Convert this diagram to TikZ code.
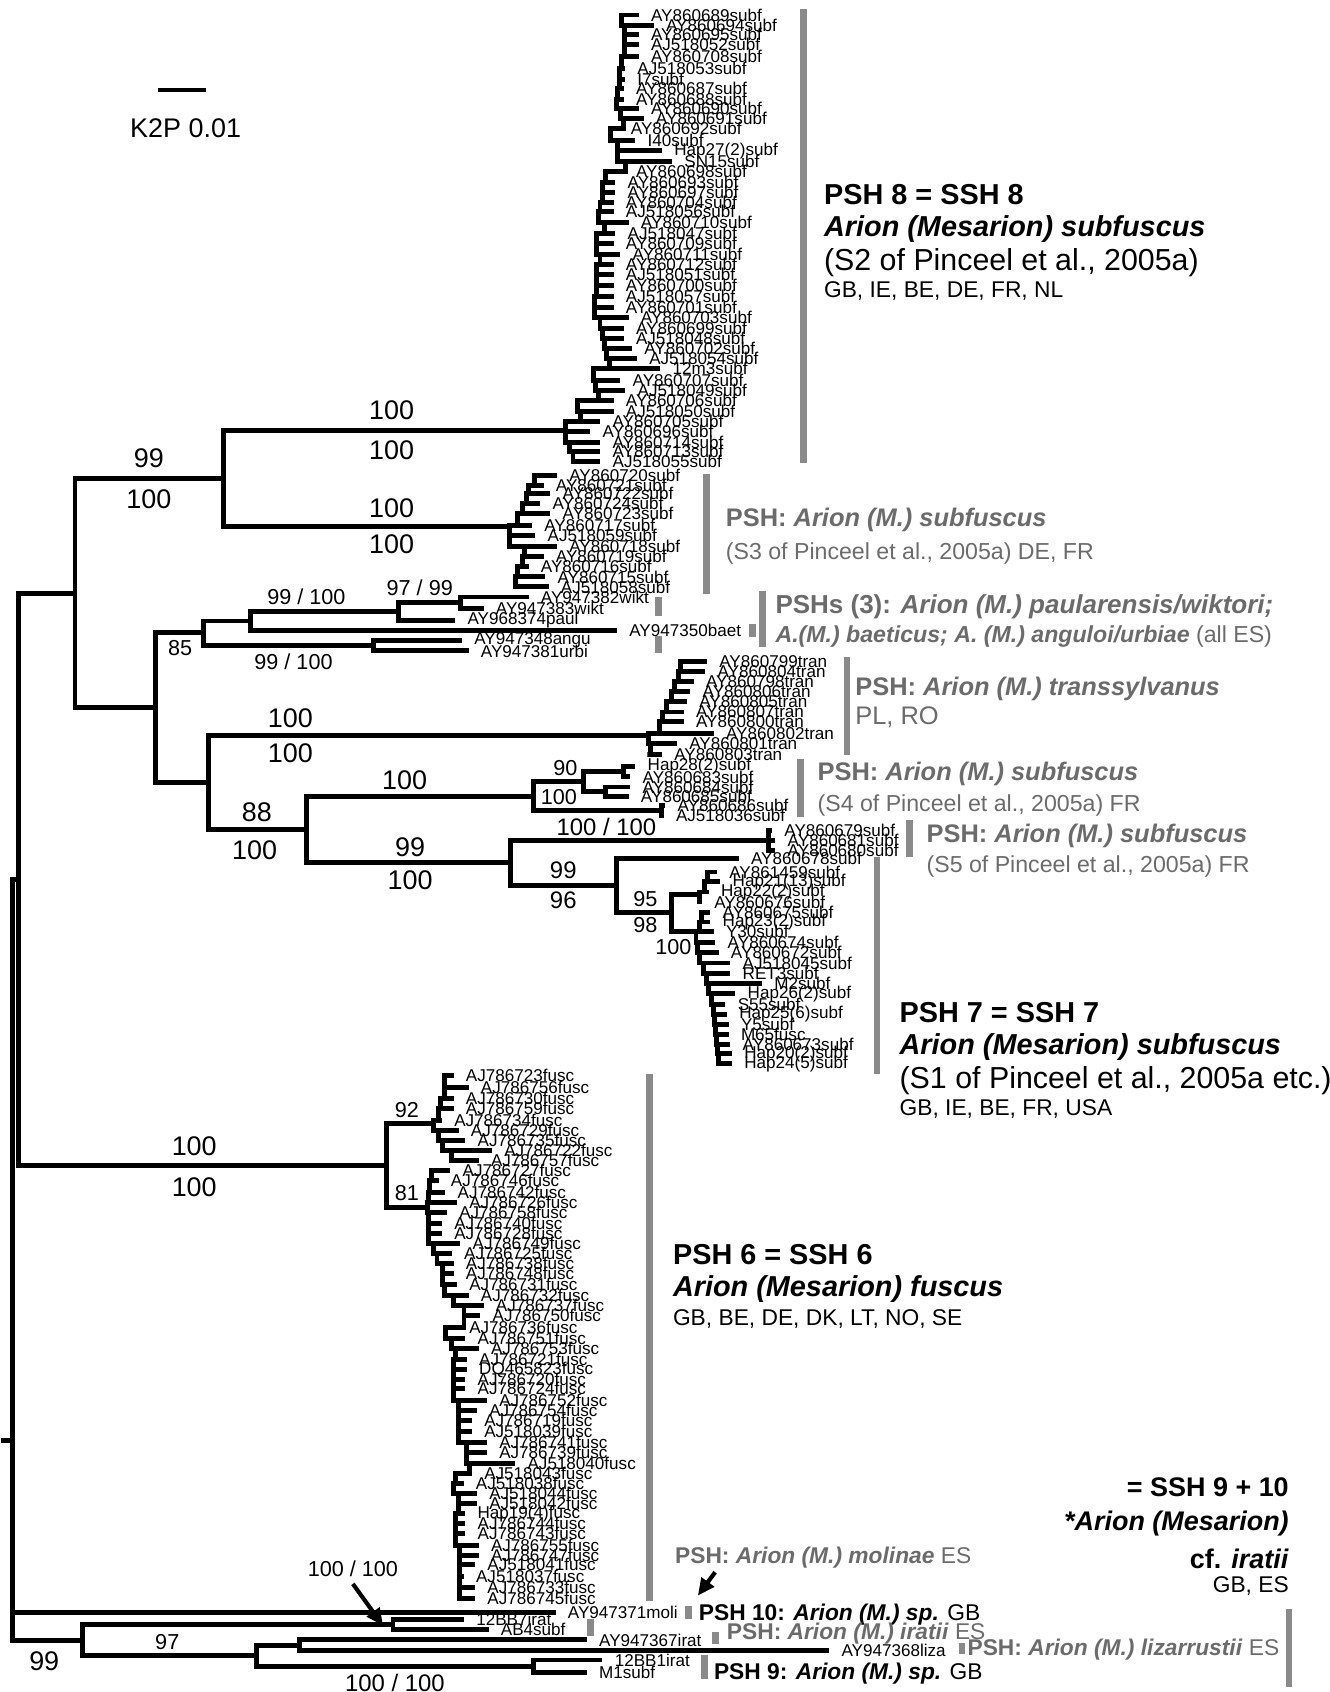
\documentclass[tikz,border=0pt]{standalone}
\usepackage{fontspec}
\setmainfont{Liberation Sans}
\usetikzlibrary{arrows.meta}
\definecolor{bargray}{HTML}{8A8A8A}
\definecolor{labelgray}{HTML}{6B6B6B}
\newcommand{\arbi}[1]{\textbf{\textit{#1}}}

\begin{document}
\begin{tikzpicture}[x=0.01cm,y=-0.01cm,
  br/.style={line width=1.3pt,line cap=rect},
  leaf/.style={anchor=west,inner xsep=3.7pt,inner ysep=0pt,font=\fontsize{4.5}{5}\selectfont},
  bigsup/.style={inner sep=0pt,font=\fontsize{7.1}{8}\selectfont},
  smallsup/.style={inner sep=0pt,font=\fontsize{5.7}{7}\selectfont},
  midsup/.style={inner sep=0pt,font=\fontsize{6.3}{7}\selectfont},
  clbar/.style={draw=bargray,line width=1.8pt},
  cladetitle/.style={anchor=west,inner sep=0pt,font=\fontsize{7.6}{9}\selectfont\bfseries},
  cladenote/.style={anchor=west,inner sep=0pt,font=\fontsize{8}{9}\selectfont},
  claderegion/.style={anchor=west,inner sep=0pt,font=\fontsize{6}{7}\selectfont},
  graylbl/.style={anchor=west,inner sep=0pt,text=labelgray,font=\fontsize{6.7}{8}\selectfont},
  graynote/.style={anchor=west,inner sep=0pt,text=labelgray,font=\fontsize{6.1}{7}\selectfont},
  smallgray/.style={anchor=west,inner sep=0pt,text=labelgray,font=\fontsize{6}{7}\selectfont},
  blacklbl/.style={anchor=west,inner sep=0pt,font=\fontsize{6}{7}\selectfont},
  ssh/.style={anchor=east,inner sep=0pt,font=\fontsize{7.1}{8}\selectfont\bfseries},
]
\useasboundingbox (0,0) rectangle (1232,1568);

% scale bar
\coordinate (sbL) at (146,83.4);
\coordinate (sbR) at (191,83.4);
\draw[line width=1.3pt] (sbL) -- (sbR);
\node[bigsup] (sbtxt) at (172,119) {K2P 0.01};

% internal nodes
\coordinate (rootstub) at (3,1335);
\coordinate (root) at (12,1335);
\coordinate (n17) at (17,815);
\coordinate (nA) at (69.5,550);
\coordinate (nF) at (358.5,1080);
\coordinate (n207) at (207,443.4);
\coordinate (n143) at (143.7,656);
\coordinate (s2in) at (524,398.6);
\coordinate (s3in) at (472,488);
\coordinate (n85) at (188.5,586.5);
\coordinate (n193) at (193.1,725.4);
\coordinate (n231) at (231.8,575.5);
\coordinate (n346) at (346,598.3);
\coordinate (n369) at (369.3,566.7);
\coordinate (nwikt) at (426.4,558.6);
\coordinate (trin) at (601,681.4);
\coordinate (n284) at (284.3,769);
\coordinate (nS4) at (494.4,737.7);
\coordinate (n473) at (472.8,799.5);
\coordinate (n541) at (540.8,724.3);
\coordinate (npair86) at (613,751);
\coordinate (n28) at (578,715);
\coordinate (n84) at (560.9,733.7);
\coordinate (nS5) at (712,778.7);
\coordinate (nS1) at (571.7,820.4);
\coordinate (n95) at (622.7,846);
\coordinate (s1bin) at (648,829);
\coordinate (s1cin) at (645,863);
\coordinate (nF1) at (402,1041.4);
\coordinate (nF2) at (396,1118.7);
\coordinate (nB) at (76.6,1520);
\coordinate (n364) at (364.2,1505.5);
\coordinate (n238) at (238,1534.3);
\coordinate (n277) at (277.3,1524.7);
\coordinate (n495) at (494.6,1544);

% backbone
\draw[br] (rootstub) -- (root);
\draw[br] (root) |- (n17);
\draw[br] (root) |- (nB);
\draw[br] (n17) |- (nA);
\draw[br] (n17) |- (nF);
\draw[br] (nA) |- (n207);
\draw[br] (nA) |- (n143);
\draw[br] (n207) |- (s2in);
\draw[br] (n207) |- (s3in);
\draw[br] (n143) |- (n85);
\draw[br] (n143) |- (n193);
\draw[br] (n85) |- (n231);
\draw[br] (n85) |- (n346);
\draw[br] (n231) |- (n369);
\draw[br] (n369) |- (nwikt);
\draw[br] (n193) |- (trin);
\draw[br] (n193) |- (n284);
\draw[br] (n284) |- (nS4);
\draw[br] (n284) |- (n473);
\draw[br] (nS4) |- (n541);
\draw[br] (nS4) |- (npair86);
\draw[br] (n541) |- (n28);
\draw[br] (n541) |- (n84);
\draw[br] (n473) |- (nS5);
\draw[br] (n473) |- (nS1);
\draw[br] (nS1) |- (n95);
\draw[br] (n95) |- (s1bin);
\draw[br] (n95) |- (s1cin);
\draw[br] (nF) |- (nF1);
\draw[br] (nF) |- (nF2);
\draw[br] (nB) |- (n364);
\draw[br] (nB) |- (n238);
\draw[br] (n238) |- (n277);
\draw[br] (n238) |- (n495);

% single leaves hanging from a named node
\foreach \p/\lx/\ly/\t [count=\i] in {
  nwikt/500.6/553.2/AY947382wikt, nwikt/458.9/564/AY947383wikt,
  n369/432.6/574.8/AY968374paul, n231/582.5/584/AY947350baet,
  n346/438.8/593.3/AY947348angu, n346/445/603.2/AY947381urbi,
  n28/599.5/710.1/Hap28(2)subf, n28/594.9/720/AY860683subf,
  n84/594.9/729.3/AY860684subf, n84/593.3/738/AY860685subf,
  npair86/627.3/746.3/AY860686subf, npair86/625.8/755.5/AJ518036subf,
  nS5/726.2/769.5/AY860679subf, nS5/729.3/778.7/AY860681subf,
  nS5/729.3/788/AY860680subf, nS1/695.3/795.7/AY860678subf,
  root/525.6/1494/AY947371moli,
  n364/440.7/1501/12BB7irat, n364/463.5/1510/AB4subf,
  n277/554.6/1519.7/AY947367irat, n277/779.2/1529.6/AY947368liza,
  n495/569/1538.3/12BB1irat, n495/554.6/1549.7/M1subf}{
  \node[leaf] (lf-\i) at (\lx-13,\ly) {\t};
  \draw[br] (\p) |- (lf-\i.west);
}

% PSH 8 comb
\foreach \lx/\ly/\bx/\t [count=\i, remember=\ly as \py (initially 13.9), remember=\bx as \pb (initially 576)] in {
  602.6/13.9/576/AY860689subf, 616.5/23.2/579/AY860694subf,
  602.6/31.8/579/AY860695subf, 602.6/41.1/579/AJ518052subf,
  602.6/52.5/576/AY860708subf, 590/63.3/574/AJ518053subf,
  590/73.5/574/I7subf, 588.7/81.9/572/AY860687subf,
  588.7/91.8/571/AY860688subf, 602.6/100.4/575/AY860690subf,
  607.2/109.7/578/AY860691subf, 584/119/566/AY860692subf,
  599.5/129.8/572/I40subf, 624.2/139.7/572/Hap27(2)subf,
  633.5/149.9/580/SN15subf, 588.7/159.2/561/AY860698subf,
  581/169.3/558/AY860693subf, 581/178.3/558/AY860697subf,
  579.4/187.6/556/AY860704subf, 579.4/196.2/555/AJ518056subf,
  593.3/206.1/560/AY860710subf, 581/216.3/553/AJ518047subf,
  579.4/225.6/553/AY860709subf, 585.6/235.5/556/AY860711subf,
  579.4/245.1/553/AY860712subf, 579.4/254.3/553/AJ518051subf,
  579.4/264.2/553/AY860700subf, 579.4/275/551/AJ518057subf,
  579.4/284.9/551/AY860701subf, 593.3/294.5/556/AY860703subf,
  588.7/304.4/558/AY860699subf, 588.7/313.6/560/AJ518048subf,
  596.4/322.9/562/AY860702subf, 601/332.2/565/AJ518054subf,
  622.7/341.5/550/12m3subf, 585.6/352.3/552/AY860707subf,
  590.2/361.5/555/AJ518049subf, 579.4/371.4/535/AY860706subf,
  579.4/381.6/538/AJ518050subf, 567/390.9/524/AY860705subf,
  557.8/400.2/524/AY860696subf, 567/410/528/AY860714subf,
  567/418.7/531/AY860713subf, 567/428/532/AJ518055subf}{
  \node[leaf] (s2-\i) at (\lx-13,\ly) {\t};
  \draw[br] (\pb,\py) |- (\bx,\ly) -- (s2-\i.west);
}

% S3 comb
\foreach \lx/\ly/\bx/\t [count=\i, remember=\ly as \py (initially 440.4), remember=\bx as \pb (initially 495)] in {
  526.9/440.4/495/AY860720subf, 514.5/449.6/490/AY860721subf,
  520.7/457.3/488/AY860722subf, 511.4/466.6/484/AY860724subf,
  520.7/475.9/480/AY860723subf, 503.7/486.7/472/AY860717subf,
  506.8/496/472/AJ518059subf, 526.9/506.2/486/AY860718subf,
  514.5/516/484/AY860719subf, 500.6/525.3/480/AY860716subf,
  516/534.6/478/AY860715subf, 519.1/543.9/478/AJ518058subf}{
  \node[leaf] (s3-\i) at (\lx-13,\ly) {\t};
  \draw[br] (\pb,\py) |- (\bx,\ly) -- (s3-\i.west);
}

% transsylvanus comb
\foreach \lx/\ly/\bx/\t [count=\i, remember=\ly as \py (initially 613.4), remember=\bx as \pb (initially 631)] in {
  665.9/613.4/631/AY860799tran, 664.4/622.7/629/AY860804tran,
  653.6/631.9/625/AY860798tran, 650.5/641.2/622/AY860806tran,
  647.4/650.5/618/AY860805tran, 644.3/659.8/614/AY860807tran,
  644.3/669/611/AY860800tran, 672.1/679.8/601/AY860802tran,
  638.1/689.1/603/AY860801tran, 624.2/699/600/AY860803tran}{
  \node[leaf] (tr-\i) at (\lx-13,\ly) {\t};
  \draw[br] (\pb,\py) |- (\bx,\ly) -- (tr-\i.west);
}

% PSH 7 combs
\foreach \lx/\ly/\bx/\t [count=\i, remember=\ly as \py (initially 808.1), remember=\bx as \pb (initially 656)] in {
  675.2/808.1/656/AY861459subf, 678.3/817.3/653/Hap21(13)subf,
  667.5/826.6/648/Hap22(2)subf, 661.3/835.9/648/AY860676subf}{
  \node[leaf] (sa-\i) at (\lx-13,\ly) {\t};
  \draw[br] (\pb,\py) |- (\bx,\ly) -- (sa-\i.west);
}
\foreach \lx/\ly/\bx/\t [count=\i, remember=\ly as \py (initially 845.2), remember=\bx as \pb (initially 650)] in {
  669/845.2/650/AY860675subf, 669/854.4/648/Hap23(2)subf,
  672.1/863.1/645/Y30subf, 673.7/873/646/AY860674subf,
  676.7/882.3/648/AY860672subf, 687.6/892.4/652/AJ518045subf,
  687.6/902.3/655/RET3subf, 716.9/911.6/657/M2subf,
  692.2/920.8/659/Hap26(2)subf, 683/930.7/661/S55subf,
  684.5/940/662/Hap25(6)subf, 686/949.3/663/Y5subf,
  686/958.6/664/M65fusc, 687.6/967.8/665/AY860673subf,
  689.1/976.5/666/Hap20(2)subf, 689.1/985.7/667/Hap24(5)subf}{
  \node[leaf] (sc-\i) at (\lx-13,\ly) {\t};
  \draw[br] (\pb,\py) |- (\bx,\ly) -- (sc-\i.west);
}

% fuscus combs
\foreach \lx/\ly/\bx/\t [count=\i, remember=\ly as \py (initially 996.6), remember=\bx as \pb (initially 412)] in {
  431.1/996.6/412/AJ786723fusc, 445/1007.4/412/AJ786756fusc,
  431.1/1018.2/408/AJ786730fusc, 431.1/1027.5/406/AJ786759fusc,
  420.3/1038.3/402/AJ786734fusc, 435.7/1047.6/406/AJ786729fusc,
  441.9/1056.8/410/AJ786735fusc, 466.6/1066.1/418/AJ786722fusc,
  454.3/1075.4/418/AJ786757fusc}{
  \node[leaf] (fa-\i) at (\lx-13,\ly) {\t};
  \draw[br] (\pb,\py) |- (\bx,\ly) -- (fa-\i.west);
}
\foreach \lx/\ly/\bx/\t [count=\i, remember=\ly as \py (initially 1084.6), remember=\bx as \pb (initially 400)] in {
  428/1084.6/400/AJ786727fusc, 417.2/1093.9/398/AJ786746fusc,
  423.4/1104.7/397/AJ786742fusc, 434.2/1114/396/AJ786726fusc,
  424.9/1123.3/397/AJ786758fusc, 420.3/1134.1/397/AJ786740fusc,
  420.3/1143.3/397/AJ786728fusc, 437.3/1152.6/402/AJ786749fusc,
  429.5/1161.9/405/AJ786725fusc, 431.1/1171.2/410/AJ786738fusc,
  431.1/1180.4/410/AJ786748fusc, 434.2/1190.5/412/AJ786731fusc,
  445/1200.5/420/AJ786732fusc, 458.9/1209.8/430/AJ786737fusc,
  455.8/1219.1/430/AJ786750fusc, 434.2/1229.9/413/AJ786736fusc,
  441.9/1240.7/418/AJ786751fusc, 454.3/1250/422/AJ786753fusc,
  443.4/1259.8/420/AJ786721fusc, 443.4/1269.4/420/DQ465823fusc,
  441.9/1278.7/420/AJ786720fusc, 441.9/1287/420/AJ786724fusc,
  462/1297.9/425/AJ786752fusc, 452.7/1307.1/425/AJ786754fusc,
  448.1/1316.4/425/AJ786719fusc, 448.1/1326.3/425/AJ518039fusc,
  462/1336.5/432/AJ786741fusc, 462/1345.8/432/AJ786739fusc,
  488.2/1356/435/AJ518040fusc, 448.1/1365.2/422/AJ518043fusc,
  440.3/1374.5/420/AJ518038fusc, 452.7/1383.8/425/AJ518044fusc,
  452.7/1393.1/425/AJ518042fusc, 441.9/1402.9/422/Hap19(4)fusc,
  441.9/1412.2/422/AJ786744fusc, 441.9/1421.4/422/AJ786743fusc,
  454.3/1432.3/426/AJ786755fusc, 454.3/1441.6/426/AJ786747fusc,
  451/1450/426/AJ518041fusc, 440.5/1461/426/AJ518037fusc,
  451/1471/426/AJ786733fusc, 451/1481/426/AJ786745fusc}{
  \node[leaf] (fb-\i) at (\lx-13,\ly) {\t};
  \draw[br] (\pb,\py) |- (\bx,\ly) -- (fb-\i.west);
}

% support values
\foreach \x/\y/\t [count=\i] in {363/380/100, 363/417/100, 138/425/99, 138/463/100,
  363/471/100, 363/504/100, 269/666/100, 269/698/100, 238/752.5/88, 236/788/100,
  375/723/100, 380/785/99, 380/816/100, 180/1062/100, 180/1100/100, 41/1539/99}
  \node[bigsup] (bs\i) at (\x,\y) {\t};
\foreach \x/\y/\t [count=\i] in {284/553/{99 / 100}, 389/545/{97 / 99}, 167/601/85,
  272/613/{99 / 100}, 524/712/90, 518/738.5/100, 598/833/95, 598/857.5/98,
  624/877.6/100, 377/1029/92, 377/1106/81, 327/1454/{100 / 100}, 155/1522/97}
  \node[smallsup] (ss\i) at (\x,\y) {\t};
\foreach \x/\y/\t [count=\i] in {522/806.5/99, 522/834/96, 562/766/{100 / 100}, 366/1560/{100 / 100}}
  \node[midsup] (ms\i) at (\x,\y) {\t};

% arrows
\coordinate (arrAs) at (327,1467.8);
\coordinate (arrAe) at (355,1506.5);
\coordinate (arrBs) at (662.7,1457);
\coordinate (arrBe) at (646.7,1478.7);
\draw[line width=1.1pt,-{Triangle[length=4.5pt,width=4pt]}] (arrAs) -- (arrAe);
\draw[line width=1.1pt,-{Triangle[length=4.5pt,width=4pt]}] (arrBs) -- (arrBe);

% clade bars
\foreach \x/\ya/\yb in {744.6/8.7/429, 655/438.8/550, 610.3/553/571, 610.3/589/605,
  697/578/590, 707/548/600, 784.9/608.8/700, 741.6/703/757, 843/760/794,
  812.7/794/995, 602/995/1484, 637.8/1488/1500, 547/1500/1516, 662.9/1512.6/1523.4,
  891.5/1523/1533, 652.6/1534/1556, 1194.5/1491/1563.6}
  \draw[clbar] (\x,\ya) -- (\x,\yb);

% clade labels
\node[cladetitle] (p8a) at (763,180) {PSH 8 = SSH 8};
\node[cladetitle] (p8b) at (763,212) {\textit{Arion (Mesarion) subfuscus}};
\node[cladenote] (p8c) at (763,243) {(S2 of Pinceel et al., 2005a)};
\node[claderegion] (p8d) at (763,270) {GB, IE, BE, DE, FR, NL};

\node[graylbl] (s3a) at (672,482) {\textbf{PSH:} \arbi{Arion (M.) subfuscus}};
\node[graynote] (s3b) at (672,513) {(S3 of Pinceel et al., 2005a) DE, FR};

\node[graylbl,font=\fontsize{6.85}{8}\selectfont] (p3a) at (718,562) {\textbf{PSHs (3):} \arbi{Arion (M.) paularensis/wiktori;}};
\node[graynote] (p3b) at (718,590) {\arbi{A.(M.) baeticus; A. (M.) anguloi/urbiae} (all ES)};

\node[graylbl] (tra) at (792,638) {\textbf{PSH:} \arbi{Arion (M.) transsylvanus}};
\node[graylbl] (trb) at (792,665) {PL, RO};

\node[graylbl] (s4a) at (757,717) {\textbf{PSH:} \arbi{Arion (M.) subfuscus}};
\node[graynote] (s4b) at (757,746) {(S4 of Pinceel et al., 2005a) FR};

\node[graylbl] (s5a) at (858,775) {\textbf{PSH:} \arbi{Arion (M.) subfuscus}};
\node[graynote] (s5b) at (858,803) {(S5 of Pinceel et al., 2005a) FR};

\node[cladetitle] (p7a) at (833,938) {PSH 7 = SSH 7};
\node[cladetitle] (p7b) at (833,970) {\textit{Arion (Mesarion) subfuscus}};
\node[cladenote] (p7c) at (833,1001) {(S1 of Pinceel et al., 2005a etc.)};
\node[claderegion] (p7d) at (833,1028) {GB, IE, BE, FR, USA};

\node[cladetitle] (p6a) at (623,1163) {PSH 6 = SSH 6};
\node[cladetitle] (p6b) at (623,1195) {\textit{Arion (Mesarion) fuscus}};
\node[claderegion] (p6c) at (623,1222) {GB, BE, DE, DK, LT, NO, SE};

\node[smallgray] (mola) at (625,1443) {\textbf{PSH:} \arbi{Arion (M.) molinae} ES};
\node[blacklbl] (p10) at (647,1496) {\textbf{PSH 10:} \arbi{Arion (M.) sp.} GB};
\node[smallgray] (irat) at (673,1514) {\textbf{PSH:} \arbi{Arion (M.) iratii} ES};
\node[smallgray] (liza) at (896,1529) {\textbf{PSH:} \arbi{Arion (M.) lizarrustii} ES};
\node[blacklbl] (p9) at (661,1551) {\textbf{PSH 9:} \arbi{Arion (M.) sp.} GB};

\node[ssh] (ssha) at (1195,1378) {= SSH 9 + 10};
\node[ssh] (sshb) at (1195,1412) {\textit{*Arion (Mesarion)}};
\node[ssh] (sshc) at (1195,1445) {cf. \textit{iratii}};
\node[claderegion,anchor=east] (sshd) at (1195,1470) {GB, ES};
\end{tikzpicture}
\end{document}
